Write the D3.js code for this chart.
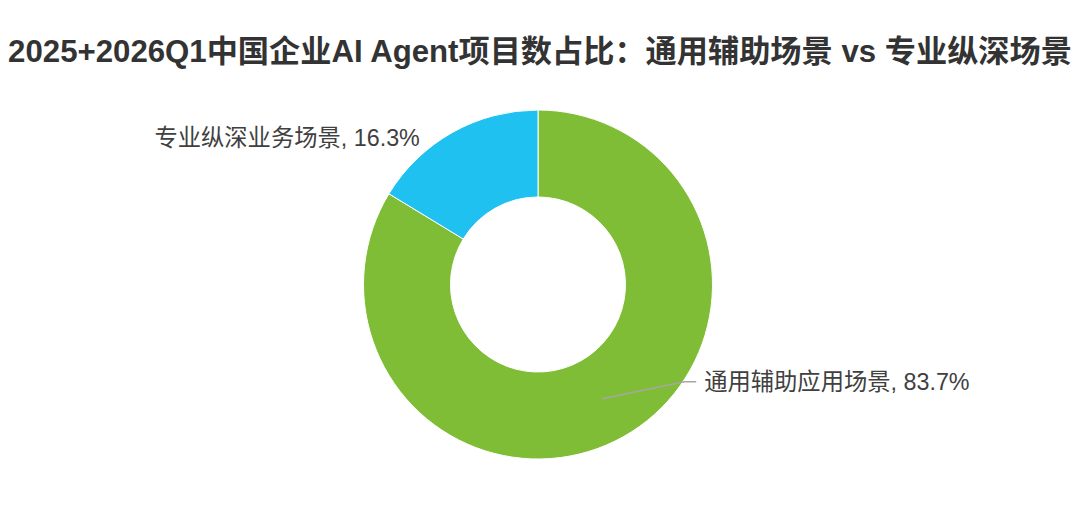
<!DOCTYPE html>
<html><head><meta charset="utf-8">
<script src="https://cdn.jsdelivr.net/npm/d3@7"></script>
<style>
html,body{margin:0;padding:0;background:#fff;}
svg{display:block;}
</style></head>
<body>
<svg id="chart" width="1080" height="506"></svg>
<script>
const title = "2025+2026Q1中国企业AI Agent项目数占比：通用辅助场景 vs 专业纵深场景";
const categories = ["通用辅助应用场景", "专业纵深业务场景"];
const values = [83.7, 16.3];
const colors = ["#80BD37", "#1FC1F0"];

const svg = d3.select("#chart");
const W = 1080, H = 506;
const cx = 538, cy = 284.5, outerR = 174.5, innerR = 87.5;
const fontFam = "'Liberation Sans', Arial, 'Noto Sans CJK SC', sans-serif";

svg.append("text")
  .attr("x", W / 2).attr("y", 62)
  .attr("text-anchor", "middle")
  .attr("font-family", fontFam)
  .attr("font-weight", "bold")
  .attr("font-size", 31.2)
  .attr("fill", "#333333")
  .text(title);

const data = categories.map((c, i) => ({ name: c, value: values[i], color: colors[i] }));
const pie = d3.pie().sort(null).value(d => d.value);
const arcs = pie(data);
const arc = d3.arc().innerRadius(innerR).outerRadius(outerR);

const g = svg.append("g").attr("transform", `translate(${cx},${cy})`);
g.selectAll("path.slice").data(arcs).join("path")
  .attr("class", "slice")
  .attr("d", arc)
  .attr("fill", d => d.data.color)
  .attr("stroke", "#ffffff")
  .attr("stroke-width", 1);

// label for green slice with leader line
const a0 = arcs[0];
const c0 = arc.centroid(a0);
const elbow = [c0[0] + 82, c0[1] - 17];
const end = [elbow[0] + 12, elbow[1]];
g.append("polyline")
  .attr("points", [c0, elbow, end].map(p => p.join(",")).join(" "))
  .attr("fill", "none")
  .attr("stroke", "#A6A6A6")
  .attr("stroke-width", 1.5);
g.append("text")
  .attr("x", end[0] + 8).attr("y", end[1])
  .attr("dominant-baseline", "central")
  .attr("font-family", fontFam)
  .attr("font-size", 23.3)
  .attr("fill", "#404040")
  .text(`${a0.data.name}, ${a0.data.value}%`);

// label for blue slice (no leader)
const a1 = arcs[1];
const c1 = arc.centroid(a1);
g.append("text")
  .attr("x", c1[0] - 54).attr("y", c1[1] - 32)
  .attr("text-anchor", "end")
  .attr("dominant-baseline", "central")
  .attr("font-family", fontFam)
  .attr("font-size", 23.3)
  .attr("fill", "#404040")
  .text(`${a1.data.name}, ${a1.data.value}%`);
</script>
</body></html>
